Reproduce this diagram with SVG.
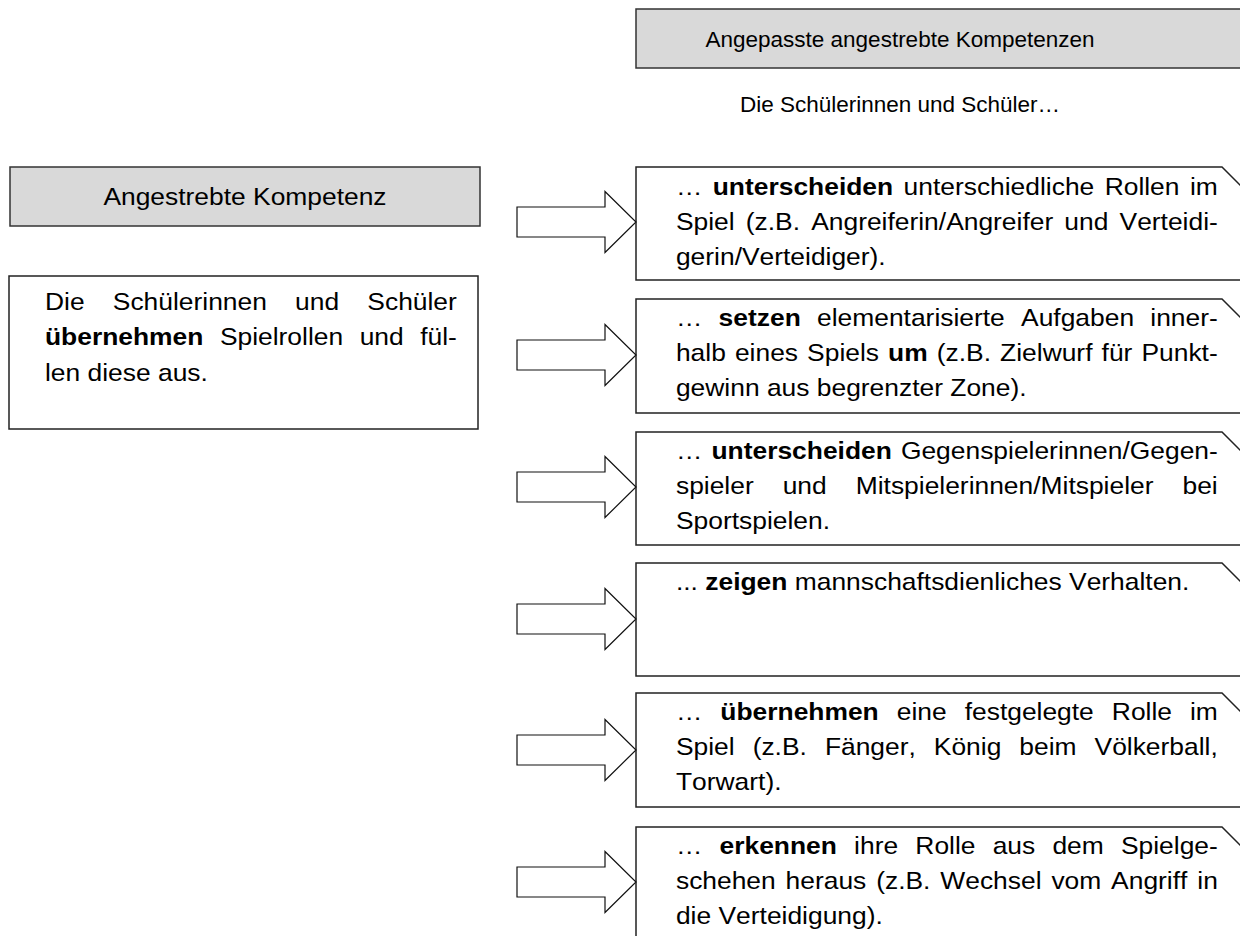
<svg xmlns="http://www.w3.org/2000/svg" width="1240" height="936" viewBox="0 0 1240 936">
  <style>
    .hdr { fill: #d9d9d9; stroke: #333; stroke-width: 1.5; }
    .box { fill: #fff; stroke: #222; stroke-width: 1.5; }
    .arrow { fill: #fff; stroke: #111; stroke-width: 1.2; stroke-linejoin: miter; }
    text { font-family: "Liberation Sans", Arial, sans-serif; font-size: 24px; fill: #000; font-kerning: none; }
    .c { text-anchor: middle; }
    .s { font-size: 22.5px; }
    .b { font-weight: 700; }
  </style>

  <!-- headings -->
  <g id="heading-adapted">
    <rect class="hdr" x="636" y="9" width="620" height="59"/>
    <text class="c s" x="900" y="46.5">Angepasste angestrebte Kompetenzen</text>
  </g>
  <g id="subtitle">
    <text class="c s" x="900" y="111.5">Die Schülerinnen und Schüler…</text>
  </g>
  <g id="heading-target">
    <rect class="hdr" x="10" y="167" width="470" height="59"/>
  </g>
  <g id="target-competence">
    <rect class="box" x="9" y="276" width="469" height="153"/>
  </g>

  <!-- adapted competence boxes (top-right corner cut) -->
  <g id="comp-1"><path class="box" d="M636,167 H1222 L1262,207 V280 H636 Z"/></g>
  <g id="comp-2"><path class="box" d="M636,299 H1222 L1262,339 V413 H636 Z"/></g>
  <g id="comp-3"><path class="box" d="M636,432 H1222 L1262,472 V545 H636 Z"/></g>
  <g id="comp-4"><path class="box" d="M636,563 H1222 L1262,603 V676 H636 Z"/></g>
  <g id="comp-5"><path class="box" d="M636,693 H1222 L1262,733 V807 H636 Z"/></g>
  <g id="comp-6"><path class="box" d="M636,827 H1222 L1262,867 V940 H636 Z"/></g>

  <!-- block arrows -->
  <g id="connectors">
    <path class="arrow" d="M517,207 H605 V191.5 L636,222 L605,252.5 V237 H517 Z"/>
    <path class="arrow" d="M517,340 H605 V324.5 L636,355 L605,385.5 V370 H517 Z"/>
    <path class="arrow" d="M517,472 H605 V456.5 L636,487 L605,517.5 V502 H517 Z"/>
    <path class="arrow" d="M517,604 H605 V588.5 L636,619 L605,649.5 V634 H517 Z"/>
    <path class="arrow" d="M517,735 H605 V719.5 L636,750 L605,780.5 V765 H517 Z"/>
    <path class="arrow" d="M517,867 H605 V851.5 L636,882 L605,912.5 V897 H517 Z"/>
  </g>

  <!-- body text is set slightly wide -->
  <g id="labels" transform="scale(1.1 1)">
    <text class="c" x="222.7" y="205">Angestrebte Kompetenz</text>

    <text x="40.9" y="310" word-spacing="19">Die Schülerinnen und Schüler</text>
    <text x="40.9" y="345.5" word-spacing="8.37"><tspan class="b">übernehmen</tspan> Spielrollen und fül-</text>
    <text x="40.9" y="381">len diese aus.</text>

    <text x="614.5" y="195" word-spacing="2.8">… <tspan class="b">unterscheiden</tspan> unterschiedliche Rollen im</text>
    <text x="614.5" y="230" word-spacing="3.47">Spiel (z.B. Angreiferin/Angreifer und Verteidi-</text>
    <text x="614.5" y="265">gerin/Verteidiger).</text>

    <text x="614.5" y="326" word-spacing="8.13">… <tspan class="b">setzen</tspan> elementarisierte Aufgaben inner-</text>
    <text x="614.5" y="361" word-spacing="1.6">halb eines Spiels <tspan class="b">um</tspan> (z.B. Zielwurf für Punkt-</text>
    <text x="614.5" y="396">gewinn aus begrenzter Zone).</text>

    <text x="614.5" y="459" word-spacing="1.6">… <tspan class="b">unterscheiden</tspan> Gegenspielerinnen/Gegen-</text>
    <text x="614.5" y="494" word-spacing="19.7">spieler und Mitspielerinnen/Mitspieler bei</text>
    <text x="614.5" y="529">Sportspielen.</text>

    <text x="614.5" y="590">... <tspan class="b">zeigen</tspan> mannschaftsdienliches Verhalten.</text>

    <text x="614.5" y="720" word-spacing="9.72">… <tspan class="b">übernehmen</tspan> eine festgelegte Rolle im</text>
    <text x="614.5" y="755" word-spacing="9.7">Spiel (z.B. Fänger, König beim Völkerball,</text>
    <text x="614.5" y="790">Torwart).</text>

    <text x="614.5" y="854" word-spacing="8.98">… <tspan class="b">erkennen</tspan> ihre Rolle aus dem Spielge-</text>
    <text x="614.5" y="889" word-spacing="2.32">schehen heraus (z.B. Wechsel vom Angriff in</text>
    <text x="614.5" y="924">die Verteidigung).</text>
  </g>
</svg>
